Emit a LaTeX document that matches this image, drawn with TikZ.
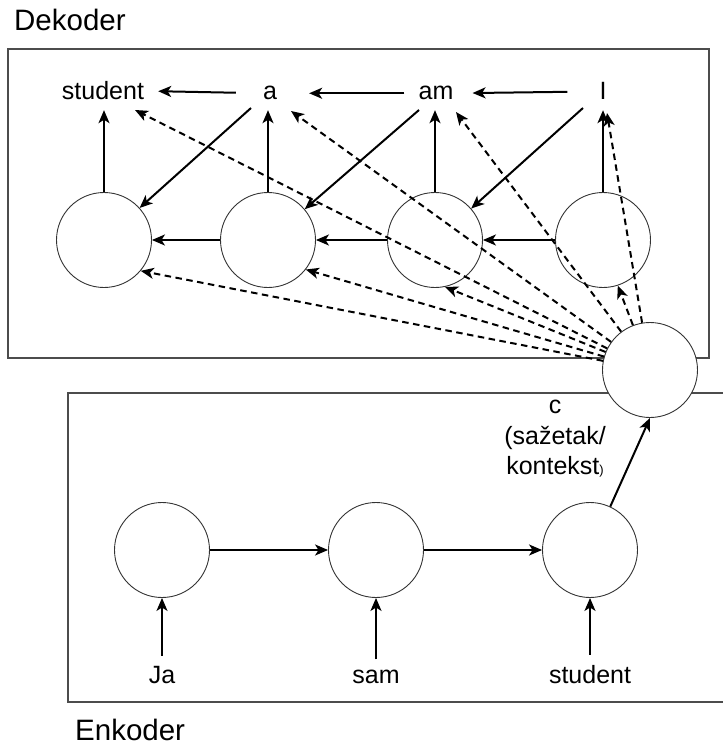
\documentclass[tikz,border=0pt]{standalone}
\usepackage{fontspec}
\setmainfont{Liberation Sans}
\usetikzlibrary{arrows.meta}
\begin{document}
\begin{tikzpicture}[x=1pt,y=-1pt,
  circ/.style={circle,draw=black!80,line width=0.9pt,minimum size=95pt,inner sep=0pt},
  word/.style={font=\fontsize{25}{30}\selectfont,inner sep=0pt,text depth=0pt,anchor=base},
  head/.style={font=\fontsize{29.5}{35}\selectfont,inner sep=0pt,anchor=base west},
  arr/.style={line width=2pt,-{Stealth[length=13pt,width=11pt,inset=3.5pt]}},
  darr/.style={arr,dash pattern=on 6.5pt off 4.5pt},
  box/.style={draw=black!70,line width=1.3pt}]
\useasboundingbox (0,0) rectangle (722,746);

% frames
\draw[box] (8,49) rectangle (709,358);
\draw[box] (724,393) -- (68,393) -- (68,702) -- (724,702);

\node[head] (dek) at (14,31) {Dekoder};
\node[head] (enk) at (75,740) {Enkoder};

% decoder cells
\node[circ] (d1) at (104,240) {};
\node[circ] (d2) at (268,240) {};
\node[circ] (d3) at (435,240) {};
\node[circ] (d4) at (603,240) {};

% decoder outputs
\node[word] (w1) at (103,100) {student};
\node[word] (w2) at (270,100) {a};
\node[word] (w3) at (436,100) {am};
\node[word] (w4) at (603,100) {I};

% encoder cells
\node[circ] (e1) at (162,550) {};
\node[circ] (e2) at (376,550) {};
\node[circ] (e3) at (590,550) {};

% encoder inputs
\node[word] (i1) at (162,683) {Ja};
\node[word] (i2) at (376,683) {sam};
\node[word] (i3) at (590,683) {student};

% context vector
\node[circ,fill=white] (c) at (650,370) {};
\node[font=\fontsize{25}{30.5}\selectfont,align=center,anchor=north,inner sep=0pt] (clab) at (555,400)
  {c\\(sažetak/\\kontekst{\fontsize{13}{13}\selectfont)}};

% word chain
\draw[arr,shorten <=27pt,shorten >=14pt] (w2.west) -- (w1.east);
\draw[arr,shorten <=14pt,shorten >=32pt] (w3.west) -- (w2.east);
\draw[arr,shorten <=32pt,shorten >=19pt] (w4.west) -- (w3.east);

% cell chain
\draw[arr] (d2.west) -- (d1.east);
\draw[arr] (d3.west) -- (d2.east);
\draw[arr] (d4.west) -- (d3.east);

% cell -> word
\foreach \i in {1,2,3,4}{
  \draw[arr,shorten >=10pt] (d\i.north) -- (d\i.north |- w\i.south);
}

% previous word -> next cell
\draw[arr] ([shift={(-19,8)}]w2.base) -- (d1.42);
\draw[arr] ([shift={(-17,10)}]w3.base) -- (d2.40);
\draw[arr] ([shift={(-20,8)}]w4.base) -- (d3.41);

% context -> decoder
\draw[darr] (c) -- (d1.-40);
\draw[darr] (c) -- (d2.-38);
\draw[darr] (c) -- (d3.-78);
\draw[darr] (c) -- (d4.-72);
\draw[darr] (c) -- ([shift={(32,10)}]w1.base);
\draw[darr] (c) -- ([shift={(21,11)}]w2.base);
\draw[darr] (c) -- ([shift={(20,12)}]w3.base);
\draw[darr] (c) -- ([shift={(4,13)}]w4.base);

% encoder
\draw[arr] (e1.east) -- (e2.west);
\draw[arr] (e2.east) -- (e3.west);
\foreach \i in {1,2,3}{
  \draw[arr,shorten <=10pt] (i\i.north) -- (e\i.south);
}
\draw[arr] (e3.65) -- (c.south);
\end{tikzpicture}
\end{document}
